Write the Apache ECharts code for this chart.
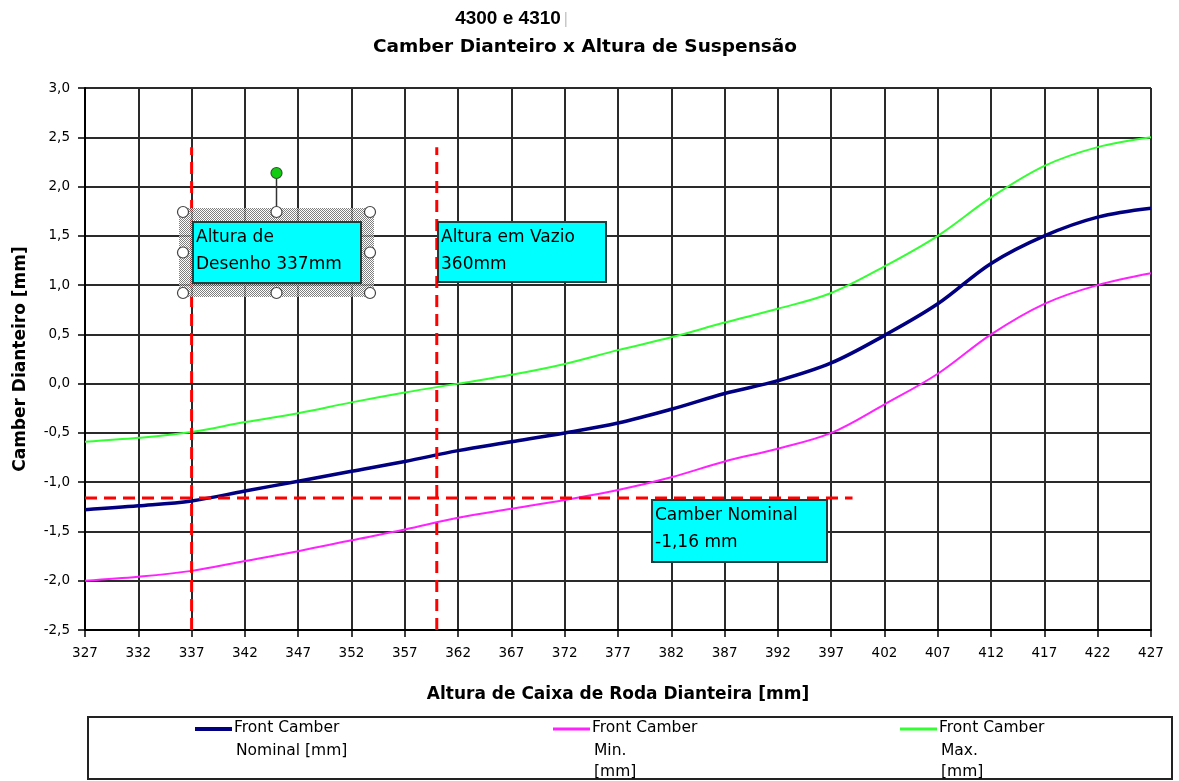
<!DOCTYPE html>
<html>
<head>
<meta charset="utf-8">
<script src="https://cdn.jsdelivr.net/npm/echarts@6/dist/echarts.min.js"></script>
<style>
  html, body { margin: 0; padding: 0; background: #ffffff; }
  #chart { width: 1179px; height: 781px; }
</style>
</head>
<body>
<div id="chart"></div>
<script>
// Wheel-arch height [mm] along the x axis
const heights = [327, 332, 337, 342, 347, 352, 357, 362, 367, 372, 377, 382, 387, 392, 397, 402, 407, 412, 417, 422, 427];
// Front camber [mm] curves
const camberNominal = [-1.28, -1.24, -1.19, -1.09, -0.99, -0.89, -0.79, -0.68, -0.59, -0.50, -0.40, -0.26, -0.10, 0.03, 0.21, 0.49, 0.81, 1.22, 1.50, 1.69, 1.78];
const camberMin     = [-2.00, -1.96, -1.90, -1.80, -1.70, -1.59, -1.48, -1.36, -1.27, -1.18, -1.08, -0.95, -0.79, -0.66, -0.50, -0.21, 0.10, 0.50, 0.81, 1.00, 1.12];
const camberMax     = [-0.59, -0.55, -0.49, -0.39, -0.30, -0.19, -0.09, 0.00, 0.09, 0.20, 0.34, 0.47, 0.62, 0.76, 0.92, 1.19, 1.50, 1.89, 2.21, 2.40, 2.50];

// Reference values marked with red dashed lines
const designHeight = 337;     // Altura de Desenho
const emptyHeight = 360;      // Altura em Vazio
const nominalCamber = -1.16;  // Camber Nominal
const refLineTop = 2.4;       // upper end of the vertical reference lines
const nominalLineEnd = 399;   // right end of the horizontal reference line

const seriesNames = ['Front Camber Nominal [mm]', 'Front Camber Min. [mm]', 'Front Camber Max. [mm]'];
const legendLines = [['Front Camber', 'Nominal [mm]'], ['Front Camber', 'Min.', '[mm]'], ['Front Camber', 'Max.', '[mm]']];
const seriesColors = ['#000080', '#ff22ff', '#33ff33'];

const Y_MIN = -2.5, Y_MAX = 3.0;
const FONT = '"DejaVu Sans", "Liberation Sans", Arial, sans-serif';

const pairs = (ys) => heights.map((h, i) => [h, ys[i]]);
const dashStyle = { color: '#ff0000', width: 3, type: [12, 7] };

const chart = echarts.init(document.getElementById('chart'), null, { renderer: 'canvas' });

const option = {
  animation: false,
  backgroundColor: '#ffffff',
  grid: { left: 85, right: 28, top: 88, bottom: 151, containLabel: false, outerBoundsMode: 'none' },
  xAxis: {
    type: 'value',
    min: heights[0],
    max: heights[heights.length - 1],
    interval: 5,
    name: 'Altura de Caixa de Roda Dianteira [mm]',
    nameLocation: 'middle',
    nameGap: 56,
    nameTextStyle: { fontFamily: FONT, fontWeight: 'bold', fontSize: 17, color: '#000' },
    axisLine: { show: true, onZero: false, lineStyle: { color: '#000', width: 2 } },
    axisTick: { show: true, length: 7, lineStyle: { color: '#000', width: 1.5 } },
    axisLabel: { fontFamily: FONT, fontSize: 13.5, color: '#000', margin: 16 },
    splitLine: { show: true, lineStyle: { color: '#2a2a2a', width: 2 } }
  },
  yAxis: {
    type: 'value',
    min: Y_MIN,
    max: Y_MAX,
    interval: 0.5,
    name: 'Camber Dianteiro [mm]',
    nameLocation: 'middle',
    nameGap: 56,
    nameTextStyle: { fontFamily: FONT, fontWeight: 'bold', fontSize: 17, color: '#000' },
    axisLine: { show: true, onZero: false, lineStyle: { color: '#000', width: 2 } },
    axisTick: { show: true, length: 7, lineStyle: { color: '#000', width: 1.5 } },
    axisLabel: {
      fontFamily: FONT, fontSize: 13.5, color: '#000', margin: 15,
      formatter: (v) => v.toFixed(1).replace('.', ',')
    },
    splitLine: { show: true, lineStyle: { color: '#2a2a2a', width: 2 } }
  },
  series: [
    { name: seriesNames[0], type: 'line', data: pairs(camberNominal), smooth: 0.35, symbol: 'none',
      lineStyle: { color: seriesColors[0], width: 3.5 }, z: 4 },
    { name: seriesNames[1], type: 'line', data: pairs(camberMin), smooth: 0.35, symbol: 'none',
      lineStyle: { color: seriesColors[1], width: 2 }, z: 3 },
    { name: seriesNames[2], type: 'line', data: pairs(camberMax), smooth: 0.35, symbol: 'none',
      lineStyle: { color: seriesColors[2], width: 2 }, z: 3 },
    { name: 'ref-design', type: 'line', data: [[designHeight, Y_MIN], [designHeight, refLineTop]],
      symbol: 'none', lineStyle: dashStyle, z: 5, silent: true },
    { name: 'ref-empty', type: 'line', data: [[emptyHeight, Y_MIN], [emptyHeight, refLineTop]],
      symbol: 'none', lineStyle: dashStyle, z: 5, silent: true },
    { name: 'ref-camber', type: 'line', data: [[heights[0], nominalCamber], [nominalLineEnd, nominalCamber]],
      symbol: 'none', lineStyle: dashStyle, z: 5, silent: true }
  ]
};
chart.setOption(option);

// ---- annotations, titles and legend box ----
const px = (x, y) => chart.convertToPixel({ gridIndex: 0 }, [x, y]);

// fine checker pattern used for the selection frame
const hatch = document.createElement('canvas');
hatch.width = 2; hatch.height = 2;
(function () {
  const c = hatch.getContext('2d');
  c.fillStyle = '#ffffff'; c.fillRect(0, 0, 2, 2);
  c.fillStyle = '#555555'; c.fillRect(0, 0, 1, 1); c.fillRect(1, 1, 1, 1);
})();

function callout(x, y, w, h, lines, z) {
  return [
    { type: 'rect', z: z, shape: { x: x, y: y, width: w, height: h },
      style: { fill: '#00ffff', stroke: '#1f3f3f', lineWidth: 2 } },
    { type: 'text', z: z + 1, x: x + 3, y: y + 2,
      style: { text: lines.join('\n'), fontFamily: FONT, fontSize: 17, lineHeight: 27,
               fill: '#000', textVerticalAlign: 'top' } }
  ];
}

const gfx = [];

// titles
gfx.push({ type: 'text', x: 508, y: 19, z: 10,
  style: { text: '4300 e 4310', fontFamily: '"Liberation Sans", Arial, sans-serif', fontWeight: 'bold', fontSize: 19,
           fill: '#000', textAlign: 'center', textVerticalAlign: 'middle' } });
gfx.push({ type: 'rect', z: 10, shape: { x: 565, y: 12, width: 1.5, height: 15 }, style: { fill: '#c8c8c8' } });
gfx.push({ type: 'text', x: 585, y: 47, z: 10,
  style: { text: 'Camber Dianteiro x Altura de Suspensão', fontFamily: FONT, fontWeight: 'bold', fontSize: 18.5,
           fill: '#000', textAlign: 'center', textVerticalAlign: 'middle' } });

// "Altura de Desenho" callout with its selection frame and handles
const pDesign = px(designHeight, 0);
const b1x = Math.round(pDesign[0]) + 1, b1y = 222, b1w = 168, b1h = 61;
const fx0 = b1x - 14, fy0 = b1y - 14, fx1 = b1x + b1w + 13, fy1 = b1y + b1h + 14;
gfx.push({ type: 'rect', z: 20, shape: { x: fx0, y: fy0, width: fx1 - fx0, height: fy1 - fy0 },
  style: { fill: { image: hatch, repeat: 'repeat' }, opacity: 0.75 } });
gfx.push(...callout(b1x, b1y, b1w, b1h, ['Altura de', 'Desenho 337mm'], 21));
const hmx = (fx0 + fx1) / 2, hmy = (fy0 + fy1) / 2;
gfx.push({ type: 'line', z: 22, shape: { x1: hmx, y1: fy0 - 30, x2: hmx, y2: fy0 }, style: { stroke: '#333', lineWidth: 1.5 } });
[[fx0 + 4, fy0 + 4], [hmx, fy0 + 4], [fx1 - 4, fy0 + 4],
 [fx0 + 4, hmy], [fx1 - 4, hmy],
 [fx0 + 4, fy1 - 4], [hmx, fy1 - 4], [fx1 - 4, fy1 - 4]].forEach(([cx, cy]) => {
  gfx.push({ type: 'circle', z: 23, shape: { cx: cx, cy: cy, r: 5.5 },
    style: { fill: '#ffffff', stroke: '#444', lineWidth: 1.2 } });
});
gfx.push({ type: 'circle', z: 23, shape: { cx: hmx, cy: fy0 - 35, r: 5.5 },
  style: { fill: '#11cc11', stroke: '#335533', lineWidth: 1.2 } });

// "Altura em Vazio" callout next to its line
const pEmpty = px(emptyHeight, 0);
gfx.push(...callout(Math.round(pEmpty[0]) + 1, 222, 168, 60, ['Altura em Vazio', '360mm'], 21));

// "Camber Nominal" callout under the horizontal line
const pNom = px(heights[0], nominalCamber);
gfx.push(...callout(652, Math.round(pNom[1]) + 2, 175, 62, ['Camber Nominal', '-1,16 mm'], 21));

// legend box
gfx.push({ type: 'rect', z: 10, shape: { x: 88, y: 717, width: 1084, height: 62 },
  style: { fill: '#ffffff', stroke: '#222', lineWidth: 2 } });
const legendX = [195, 553, 900];
legendLines.forEach((lines, i) => {
  const x = legendX[i];
  gfx.push({ type: 'line', z: 11, shape: { x1: x, y1: 729, x2: x + 37, y2: 729 },
    style: { stroke: seriesColors[i], lineWidth: i === 0 ? 4 : 3 } });
  gfx.push({ type: 'text', z: 11, x: x + 39, y: 720,
    style: { text: lines[0], fontFamily: FONT, fontSize: 15.5, fill: '#000', textVerticalAlign: 'top' } });
  gfx.push({ type: 'text', z: 11, x: x + 41, y: 740,
    style: { text: lines.slice(1).join('\n'), fontFamily: FONT, fontSize: 15.5, lineHeight: 21,
             fill: '#000', textVerticalAlign: 'top' } });
});

chart.setOption({ graphic: { elements: gfx } });
</script>
</body>
</html>
